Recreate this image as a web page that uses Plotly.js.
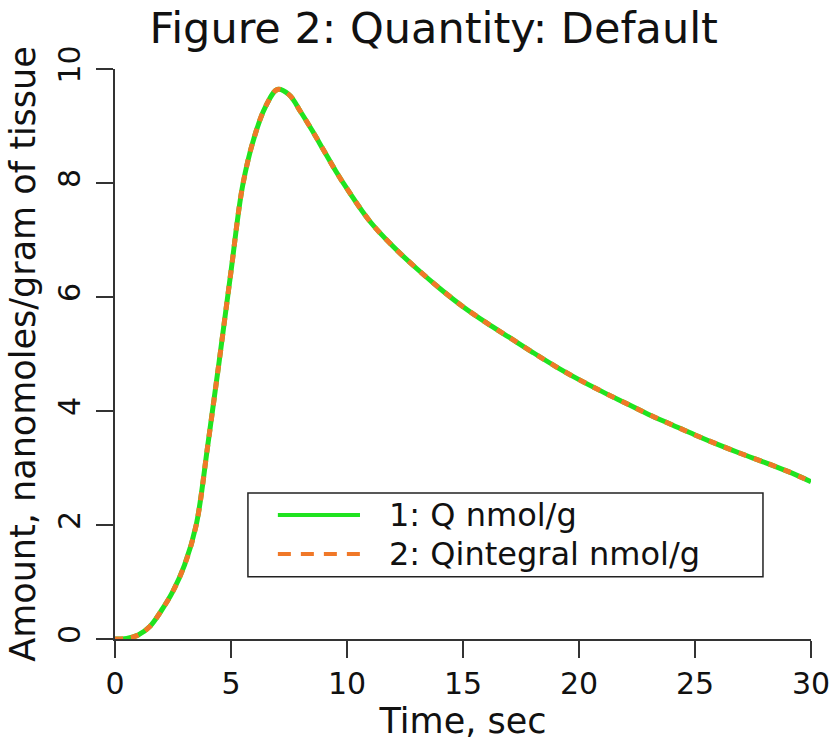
<!DOCTYPE html>
<html>
<head>
<meta charset="utf-8">
<script src="https://cdn.plot.ly/plotly-3.0.1.min.js"></script>
<style>
  html, body { margin: 0; padding: 0; background: #ffffff; }
  #chart { width: 839px; height: 748px; }
</style>
</head>
<body>
<div id="chart"></div>
<script>
// Time points (sec)
const timeSec = [0, 0.5, 1, 1.5, 2, 2.5, 3, 3.5, 4, 4.5, 5, 5.5, 6, 6.5, 7, 7.5,
  8, 8.5, 9, 9.5, 10, 11, 12, 13, 14, 15, 16, 17, 18, 19, 20, 21, 22, 23, 24,
  25, 26, 27, 28, 29, 30];

// 1: Q (nmol/g)
const qNmol = [0, 0.01, 0.07, 0.22, 0.5, 0.84, 1.3, 2.0, 3.4, 4.9, 6.45, 7.95,
  8.8, 9.35, 9.64, 9.55, 9.25, 8.92, 8.57, 8.22, 7.9, 7.32, 6.88, 6.5, 6.15,
  5.83, 5.55, 5.29, 5.03, 4.78, 4.55, 4.34, 4.14, 3.94, 3.76, 3.58, 3.41,
  3.25, 3.1, 2.94, 2.76];

// 2: Qintegral (nmol/g)
const qIntegralNmol = [0, 0.01, 0.07, 0.22, 0.5, 0.84, 1.3, 2.0, 3.4, 4.9, 6.45,
  7.95, 8.8, 9.35, 9.64, 9.55, 9.25, 8.92, 8.57, 8.22, 7.9, 7.32, 6.88, 6.5,
  6.15, 5.83, 5.55, 5.29, 5.03, 4.78, 4.55, 4.34, 4.14, 3.94, 3.76, 3.58,
  3.41, 3.25, 3.1, 2.94, 2.76];

const seriesNames = ['1: Q nmol/g', '2: Qintegral nmol/g'];
const seriesColors = ['#1fe31f', '#f07828'];
const xTicks = [0, 5, 10, 15, 20, 25, 30];
const yTicks = [0, 2, 4, 6, 8, 10];

const FONT = 'DejaVu Sans, Verdana, sans-serif';
const INK = '#111111';

const traces = [
  {
    x: timeSec, y: qNmol, name: seriesNames[0], type: 'scatter', mode: 'lines',
    line: { color: seriesColors[0], width: 5, shape: 'spline', smoothing: 1 }
  },
  {
    x: timeSec, y: qIntegralNmol, name: seriesNames[1], type: 'scatter', mode: 'lines',
    line: { color: seriesColors[1], width: 5, dash: '8px,8px', shape: 'spline', smoothing: 1 }
  }
];

const axisCommon = {
  showline: true, linecolor: '#333333', linewidth: 2,
  ticks: 'outside', ticklen: 17, tickwidth: 2, tickcolor: '#333333',
  showgrid: false, zeroline: false, mirror: false,
  tickfont: { family: FONT, size: 30, color: INK }
};

// Boxed key inside the plot area (paper coordinates)
const key = { x0: 0.191, x1: 0.931, y0: 0.109, y1: 0.256,
  lineX0: 0.234, lineX1: 0.352, textX: 0.392, rowY: [0.2175, 0.149] };

const shapes = [
  { type: 'rect', xref: 'paper', yref: 'paper', x0: key.x0, x1: key.x1, y0: key.y0, y1: key.y1,
    line: { color: '#222222', width: 1.5 }, fillcolor: '#ffffff', layer: 'above' },
  { type: 'line', xref: 'paper', yref: 'paper', x0: key.lineX0, x1: key.lineX1,
    y0: key.rowY[0], y1: key.rowY[0], line: { color: seriesColors[0], width: 4 }, layer: 'above' },
  { type: 'line', xref: 'paper', yref: 'paper', x0: key.lineX0, x1: key.lineX1,
    y0: key.rowY[1], y1: key.rowY[1], line: { color: seriesColors[1], width: 4, dash: '13px,10px' }, layer: 'above' }
];

const annotations = seriesNames.map((name, i) => ({
  text: name, xref: 'paper', yref: 'paper', x: key.textX, y: key.rowY[i],
  xanchor: 'left', yanchor: 'middle', showarrow: false, borderpad: 0,
  font: { family: FONT, size: 32, color: INK }
}));

const layout = {
  width: 839, height: 748,
  paper_bgcolor: '#ffffff', plot_bgcolor: '#ffffff',
  margin: { l: 115, r: 28, t: 69, b: 109 },
  showlegend: false,
  title: {
    text: 'Figure 2: Quantity: Default',
    font: { family: FONT, size: 43, color: INK },
    x: 0.517, xanchor: 'center', xref: 'container',
    y: 0.962, yanchor: 'middle', yref: 'container'
  },
  xaxis: Object.assign({}, axisCommon, {
    range: [0, 30], tickvals: xTicks, ticktext: xTicks.map(String),
    ticklabelstandoff: 0,
    title: { text: 'Time, sec', font: { family: FONT, size: 35, color: INK }, standoff: 8 }
  }),
  yaxis: Object.assign({}, axisCommon, {
    range: [0, 10], tickvals: yTicks, ticktext: yTicks.map(String),
    tickangle: -90, ticklabelstandoff: 4,
    title: { text: 'Amount, nanomoles/gram of tissue', font: { family: FONT, size: 35, color: INK }, standoff: 6 }
  }),
  shapes: shapes,
  annotations: annotations
};

Plotly.newPlot('chart', traces, layout, { displayModeBar: false, staticPlot: true });
</script>
</body>
</html>
